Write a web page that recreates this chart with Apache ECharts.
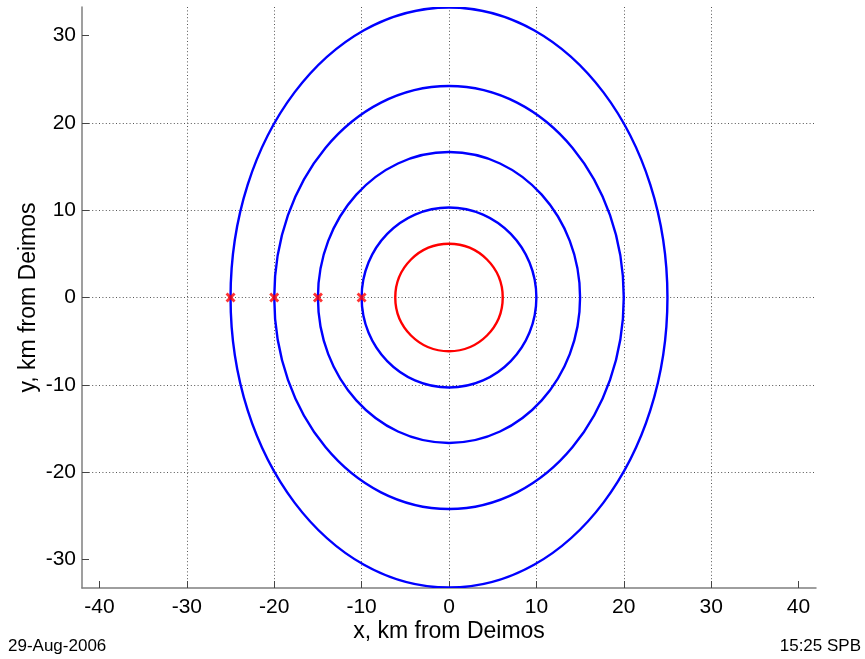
<!DOCTYPE html>
<html>
<head>
<meta charset="utf-8">
<script src="https://cdn.jsdelivr.net/npm/echarts@6/dist/echarts.min.js"></script>
<style>
html,body{margin:0;padding:0;background:#fff;}
#chart{width:865px;height:659px;}
</style>
</head>
<body>
<div id="chart"></div>
<script>
// ---- data ----
var xRange = [-42, 42];
var yRange = [-33.25, 33.25];
var xTicks = [-40, -30, -20, -10, 0, 10, 20, 30, 40];
var yTicks = [-30, -20, -10, 0, 10, 20, 30];

// red circle (Deimos neighbourhood): centre and radius, km
var redCenter = [0, 0];
var redRadius = 6.15;

// blue ellipses: centre and semi-axes (km)
var blueCenterX = [0, 0, 0, 0];
var blueCenterY = [0, 0, 0, 0];
var blueSemiX = [10, 15, 20, 25];
var blueSemiY = [10.3, 16.65, 24.2, 33.2];

// red x markers
var markerX = [-25, -20, -15, -10];
var markerY = [0, 0, 0, 0];

var xLabel = 'x, km from Deimos';
var yLabel = 'y, km from Deimos';
var dateText = '29-Aug-2006';
var timeText = '15:25 SPB';

var FONT = '"Liberation Sans", Arial, Helvetica, sans-serif';

var blueData = blueSemiX.map(function (a, i) {
  return [blueCenterX[i], blueCenterY[i], a, blueSemiY[i]];
});
var redData = [[redCenter[0], redCenter[1], redRadius, redRadius]];
var markerData = markerX.map(function (x, i) { return [x, markerY[i]]; });

function ellipseRenderer(color) {
  return function (params, api) {
    var c = api.coord([api.value(0), api.value(1)]);
    var rx = api.size([api.value(2), 0])[0];
    var ry = api.size([0, api.value(3)])[1];
    return {
      type: 'ellipse',
      shape: { cx: c[0], cy: c[1], rx: rx, ry: ry },
      style: { fill: null, stroke: color, lineWidth: 2.4 }
    };
  };
}

var gridLine = { show: true, showMinLine: false, showMaxLine: false,
  lineStyle: { color: '#555555', width: 1, type: [1, 2.4] } };

var chart = echarts.init(document.getElementById('chart'), null, { renderer: 'canvas' });
chart.setOption({
  backgroundColor: '#ffffff',
  animation: false,
  textStyle: { fontFamily: FONT },
  grid: { left: 82, top: 7, width: 734, height: 581, containLabel: false },
  xAxis: {
    type: 'value', min: xRange[0], max: xRange[1], splitNumber: 8,
    name: xLabel, nameLocation: 'middle', nameGap: 32, nameMoveOverlap: false,
    nameTextStyle: { fontSize: 23, color: '#000', fontFamily: FONT },
    axisLine: { show: true, onZero: false, lineStyle: { color: '#7f7f7f', width: 1.5 } },
    axisTick: { show: true, inside: true, length: 7, customValues: xTicks, lineStyle: { color: '#444', width: 1 } },
    axisLabel: { show: true, customValues: xTicks, margin: 9, fontSize: 21, color: '#000', fontFamily: FONT },
    splitLine: gridLine
  },
  yAxis: {
    type: 'value', min: yRange[0], max: yRange[1], splitNumber: 6,
    name: yLabel, nameLocation: 'middle', nameGap: 42, nameRotate: 90, nameMoveOverlap: false,
    nameTextStyle: { fontSize: 23, color: '#000', fontFamily: FONT },
    axisLine: { show: true, onZero: false, lineStyle: { color: '#7f7f7f', width: 1.5 } },
    axisTick: { show: true, inside: true, length: 7, customValues: yTicks, lineStyle: { color: '#444', width: 1 } },
    axisLabel: { show: true, customValues: yTicks, margin: 6, fontSize: 21, color: '#000', fontFamily: FONT },
    splitLine: gridLine
  },
  series: [
    { type: 'custom', name: 'orbits', data: blueData, renderItem: ellipseRenderer('#0000ff'),
      encode: { x: 0, y: 1 }, clip: true, silent: true, z: 3 },
    { type: 'custom', name: 'deimos', data: redData, renderItem: ellipseRenderer('#ff0000'),
      encode: { x: 0, y: 1 }, clip: true, silent: true, z: 3 },
    { type: 'scatter', name: 'start', data: markerData,
      symbol: 'path://M2,0 L5,3 L8,0 L10,2 L7,5 L10,8 L8,10 L5,7 L2,10 L0,8 L3,5 L0,2 Z',
      symbolSize: 10, itemStyle: { color: '#ff0000' }, silent: true, z: 5 }
  ],
  graphic: [
    { type: 'text', left: 8, top: 638, style: { text: dateText, font: '17px ' + FONT, fill: '#000' } },
    { type: 'text', right: 4, top: 638, style: { text: timeText, font: '17px ' + FONT, fill: '#000' } }
  ]
});
</script>
</body>
</html>
